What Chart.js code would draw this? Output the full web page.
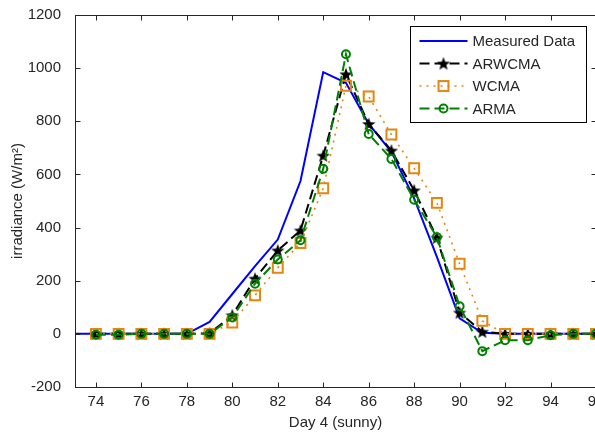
<!DOCTYPE html>
<html>
<head>
<meta charset="utf-8">
<script src="https://cdn.jsdelivr.net/npm/chart.js@4.4.1/dist/chart.umd.min.js"></script>
<style>
  html, body { margin: 0; padding: 0; background: #fff; overflow: hidden; }
  #wrap { width: 605px; height: 435px; }
</style>
</head>
<body>
<div id="wrap"><canvas id="chart" width="605" height="435"></canvas></div>
<script>
const measuredDays = [73, 74, 75, 76, 77, 78, 79, 80, 81, 82, 83, 84, 85, 86, 87, 88, 89, 90, 91, 92, 93, 94, 95, 96];
const measured = [0, 0, 0, 0, 0, 0, 45, 150, 255, 355, 575, 985, 945, 790, 685, 510, 290, 58, 4, 0, 0, 0, 0, 0];

const days = [74, 75, 76, 77, 78, 79, 80, 81, 82, 83, 84, 85, 86, 87, 88, 89, 90, 91, 92, 93, 94, 95, 96];
const arwcma = [0, 0, 0, 0, 0, 2, 70, 208, 314, 389, 671, 977, 790, 690, 540, 362, 80, 8, 0, 0, 0, 0, 0];
const wcma = [0, 0, 0, 0, 0, 0, 43, 145, 249, 342, 548, 934, 893, 750, 623, 493, 264, 49, 0, 0, 0, 0, 0];
const arma = [-3, -3, 0, 0, 0, 0, 62, 189, 280, 352, 621, 1052, 752, 658, 505, 364, 104, -65, -24, -24, -5, 0, 0];

const xTicks = [74, 76, 78, 80, 82, 84, 86, 88, 90, 92, 94, 96];
const yTicks = [-200, 0, 200, 400, 600, 800, 1000, 1200];

const textColor = '#262626';
const font = { family: "'Liberation Sans', Arial, sans-serif", size: 15 };
const orange = 'rgb(228, 134, 18)';
const green = 'rgb(0, 128, 0)';

const toPoints = (xs, ys) => xs.map((x, i) => ({ x, y: ys[i] }));

// filled pentagram, like the matlab 'p' marker
const makeStar = (size, color) => {
  const c = document.createElement('canvas');
  c.width = size;
  c.height = size;
  const g = c.getContext('2d');
  const r = size / 2;
  const ri = r * 0.42;
  g.beginPath();
  for (let i = 0; i < 10; i++) {
    const rad = i % 2 === 0 ? r : ri;
    const a = -Math.PI / 2 + (i * Math.PI) / 5;
    const px = r + rad * Math.cos(a);
    const py = r + rad * Math.sin(a) + 0.6;
    if (i === 0) g.moveTo(px, py);
    else g.lineTo(px, py);
  }
  g.closePath();
  g.fillStyle = color;
  g.fill();
  return c;
};
const starImg = makeStar(14, '#000');

const datasets = [
  {
    label: 'Measured Data',
    data: toPoints(measuredDays, measured),
    borderColor: 'rgb(0, 0, 255)',
    borderWidth: 2,
    pointRadius: 0,
    order: 4,
  },
  {
    label: 'ARWCMA',
    data: toPoints(days, arwcma),
    borderColor: '#000',
    backgroundColor: '#000',
    borderWidth: 2,
    borderDash: [10, 5],
    pointStyle: starImg,
    pointRadius: 7,
    order: 3,
  },
  {
    label: 'WCMA',
    data: toPoints(days, wcma),
    borderColor: orange,
    borderWidth: 1.6,
    borderDash: [2, 5],
    pointStyle: 'rect',
    pointRadius: 7,
    pointBorderWidth: 2,
    pointBorderColor: orange,
    pointBackgroundColor: 'rgba(0,0,0,0)',
    order: 2,
  },
  {
    label: 'ARMA',
    data: toPoints(days, arma),
    borderColor: green,
    borderWidth: 2,
    borderDash: [10, 5],
    pointStyle: 'circle',
    pointRadius: 4,
    pointBorderWidth: 2,
    pointBorderColor: green,
    pointBackgroundColor: 'rgba(0,0,0,0)',
    order: 1,
  },
];

const drawMarker = (ctx, ds, x, y) => {
  if (ds.pointStyle === starImg) {
    ctx.drawImage(starImg, x - 7, y - 7);
  } else if (ds.pointStyle === 'rect') {
    const s = ds.pointRadius * Math.SQRT1_2;
    ctx.setLineDash([]);
    ctx.lineWidth = ds.pointBorderWidth;
    ctx.strokeStyle = ds.pointBorderColor;
    ctx.strokeRect(x - s, y - s, 2 * s, 2 * s);
  } else if (ds.pointStyle === 'circle') {
    ctx.setLineDash([]);
    ctx.lineWidth = ds.pointBorderWidth;
    ctx.strokeStyle = ds.pointBorderColor;
    ctx.beginPath();
    ctx.arc(x, y, ds.pointRadius, 0, Math.PI * 2);
    ctx.stroke();
  }
};

// matlab style box: frame on all four sides, ticks pointing inward, legend inside
const frameAndLegend = {
  id: 'frameAndLegend',
  afterDraw: (chart) => {
    const { ctx, chartArea: a, scales } = chart;
    const left = Math.round(a.left) + 0.5;
    const right = Math.round(a.right) + 0.5;
    const top = Math.round(a.top) + 0.5;
    const bottom = Math.round(a.bottom) + 0.5;
    ctx.save();
    ctx.strokeStyle = textColor;
    ctx.lineWidth = 1;
    ctx.strokeRect(left, top, right - left, bottom - top);
    ctx.beginPath();
    scales.x.ticks.forEach((t) => {
      const x = Math.round(scales.x.getPixelForValue(t.value)) + 0.5;
      ctx.moveTo(x, bottom);
      ctx.lineTo(x, bottom - 5);
      ctx.moveTo(x, top);
      ctx.lineTo(x, top + 5);
    });
    scales.y.ticks.forEach((t) => {
      const y = Math.round(scales.y.getPixelForValue(t.value)) + 0.5;
      ctx.moveTo(left, y);
      ctx.lineTo(left + 5, y);
      ctx.moveTo(right, y);
      ctx.lineTo(right - 5, y);
    });
    ctx.stroke();

    // legend
    const bx = 410.5;
    const by = 26.5;
    const bw = 176;
    const bh = 96;
    ctx.fillStyle = '#fff';
    ctx.fillRect(bx, by, bw, bh);
    ctx.strokeStyle = '#000';
    ctx.strokeRect(bx, by, bw, bh);
    ctx.font = `${font.size}px ${font.family}`;
    ctx.textBaseline = 'middle';
    ctx.textAlign = 'left';
    chart.data.datasets.forEach((ds, i) => {
      const y = by + 14.5 + i * 22.5;
      ctx.setLineDash(ds.borderDash || []);
      ctx.lineWidth = ds.borderWidth;
      ctx.strokeStyle = ds.borderColor;
      ctx.beginPath();
      ctx.moveTo(bx + 9, y);
      ctx.lineTo(bx + 57, y);
      ctx.stroke();
      drawMarker(ctx, ds, bx + 33, y);
      ctx.fillStyle = textColor;
      ctx.fillText(ds.label, bx + 62, y + 1);
    });
    ctx.restore();
  },
};

new Chart(document.getElementById('chart'), {
  type: 'line',
  data: { datasets },
  options: {
    responsive: false,
    animation: false,
    layout: { padding: { top: 14, right: 8, left: 0, bottom: 0 } },
    plugins: {
      legend: { display: false },
      tooltip: { enabled: false },
    },
    scales: {
      x: {
        type: 'linear',
        min: 73.08,
        max: 96,
        afterBuildTicks: (scale) => {
          scale.ticks = xTicks.map((v) => ({ value: v }));
        },
        afterFit: (scale) => {
          scale.height = 48;
        },
        grid: { display: false },
        border: { display: false },
        ticks: { color: textColor, font, padding: -2, maxRotation: 0, autoSkip: false, callback: (v) => String(v) },
        title: { display: true, text: 'Day 4 (sunny)', color: textColor, font, padding: { top: 0, bottom: 3 } },
      },
      y: {
        min: -200,
        max: 1200,
        afterBuildTicks: (scale) => {
          scale.ticks = yTicks.map((v) => ({ value: v }));
        },
        afterFit: (scale) => {
          scale.width = 75;
        },
        grid: { display: false },
        border: { display: false },
        ticks: { color: textColor, font, padding: 6, callback: (v) => String(v) },
        title: { display: true, text: 'irradiance (W/m²)', color: textColor, font, padding: { top: 9, bottom: 0 } },
      },
    },
  },
  plugins: [frameAndLegend],
});
</script>
</body>
</html>
